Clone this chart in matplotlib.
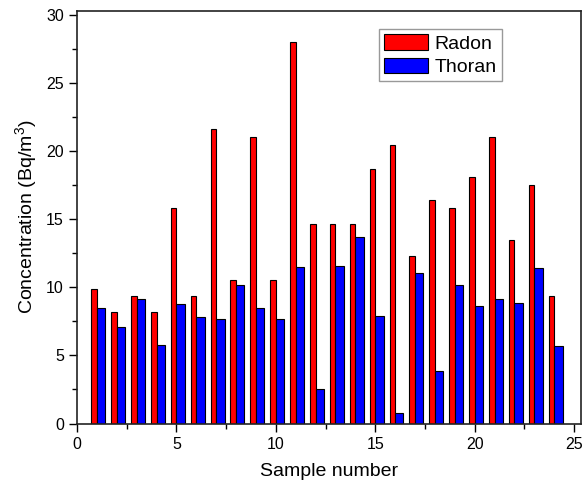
import numpy as np
import matplotlib
matplotlib.use("Agg")
import matplotlib.pyplot as plt
from matplotlib.ticker import MultipleLocator

plt.rcParams["font.family"] = ["Liberation Sans", "DejaVu Sans"]

samples = np.arange(1, 25)
radon = [9.9, 8.2, 9.35, 8.2, 15.8, 9.35, 21.6, 10.5, 21.0, 10.5, 28.0, 14.6,
         14.6, 14.6, 18.7, 20.45, 12.3, 16.4, 15.8, 18.1, 21.0, 13.45, 17.5, 9.35]
thoran = [8.45, 7.1, 9.15, 5.75, 8.75, 7.8, 7.7, 10.15, 8.45, 7.7, 11.45, 2.55,
          11.55, 13.7, 7.85, 0.8, 11.05, 3.85, 10.15, 8.6, 9.1, 8.85, 11.4, 5.65]

fig = plt.figure(figsize=(5.83, 4.88), dpi=100)
ax = fig.add_axes([77 / 583, 64.5 / 488, 504 / 583, 412.5 / 488])

ax.bar(samples - 0.28, radon, width=0.28, align="edge", color="#FF0000",
       edgecolor="black", linewidth=0.8, label="Radon", zorder=2)
ax.bar(samples, thoran, width=0.42, align="edge", color="#0000FF",
       edgecolor="black", linewidth=0.8, label="Thoran", zorder=2)

ax.set_xlim(0, 25.35)
ax.set_ylim(0, 30.26)
ax.xaxis.set_major_locator(MultipleLocator(5))
ax.xaxis.set_minor_locator(MultipleLocator(2.5))
ax.yaxis.set_major_locator(MultipleLocator(5))
ax.yaxis.set_minor_locator(MultipleLocator(2.5))
ax.tick_params(which="both", direction="out", top=False, right=False,
               labelsize=11.5, width=1)
ax.tick_params(which="major", length=6)
ax.tick_params(which="minor", length=3.5)
for s in ax.spines.values():
    s.set_linewidth(1.2)
    s.set_color("#222222")

ax.set_xlabel("Sample number", fontsize=14, labelpad=8)
ax.set_ylabel(r"Concentration (Bq/m$^\mathregular{3}$)", fontsize=14, labelpad=4)

leg = ax.legend(loc="upper left", bbox_to_anchor=(0.599, 0.956), fontsize=14,
                handlelength=2.27, handleheight=0.88, handletextpad=0.35,
                labelspacing=0.25, borderpad=0.25, borderaxespad=0,
                fancybox=False, framealpha=1)
leg.get_frame().set_edgecolor("#999999")
leg.get_frame().set_linewidth(1)

fig.savefig("out.png", dpi=100, facecolor="white")
